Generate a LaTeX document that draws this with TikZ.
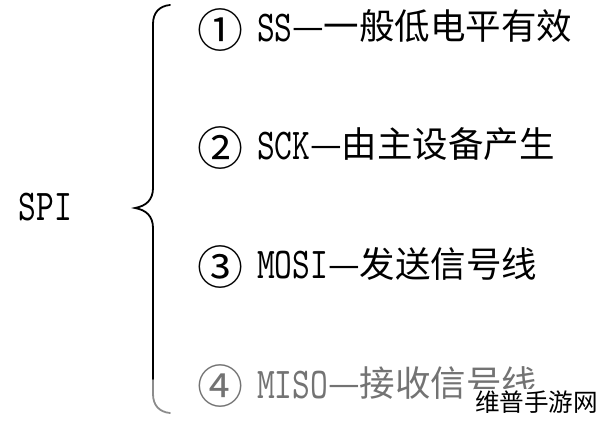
\documentclass[tikz,border=0pt]{standalone}
\usepackage{fontspec}
\newfontfamily\cjk{Noto Sans CJK SC}
\newfontfamily\latn{lmmono10-regular.otf}[FakeStretch=0.77]
\begin{document}
\begin{tikzpicture}[x=1pt,y=-1pt,
  every node/.style={inner sep=0pt, outer sep=0pt},
  num/.style={anchor=base, font=\cjk\fontsize{46}{46}\selectfont},
  lat/.style={anchor=base west, font=\latn\fontsize{44}{44}\selectfont},
  zh/.style={anchor=base west, font=\cjk\fontsize{35.5}{36}\selectfont},
  brace/.style={line width=1.8pt, line cap=round},
  faded/.style={text=black!55}
]
\useasboundingbox (0,0) rectangle (600,422);
% root label
\node[lat] (spi) at (19,221) {SPI};
% brace
\draw[brace] (170,5) .. controls (159,6) and (153,13) .. (153,24) -- (153,188)
  .. controls (153,200) and (146,206) .. (135,208)
  .. controls (146,210) and (153,216) .. (153,228) -- (153,380);
\draw[brace, black!45] (153,380) -- (153,394) .. controls (153,405) and (159,412) .. (170,413);
% item 1
\node[num] (n1) at (220,48) {①};
\node[lat] (l1) at (257,42) {SS};
\node[zh]  (z1) at (292,40) {—一般低电平有效};
% item 2
\node[num] (n2) at (220,166) {②};
\node[lat] (l2) at (257,160) {SCK};
\node[zh]  (z2) at (310,158) {—由主设备产生};
% item 3
\node[num] (n3) at (220,285) {③};
\node[lat] (l3) at (257,279) {MOSI};
\node[zh]  (z3) at (328,277) {—发送信号线};
% item 4
\node[num, faded] (n4) at (220,403) {④};
\node[lat, faded] (l4) at (257,398) {MISO};
\node[zh, faded]  (z4) at (328,396) {—接收信号线};
% watermark
\node[anchor=base west, fill=white, inner sep=1pt, font=\cjk\fontsize{24.6}{25}\selectfont] (wm) at (474,411) {维普手游网};
\end{tikzpicture}
\end{document}
